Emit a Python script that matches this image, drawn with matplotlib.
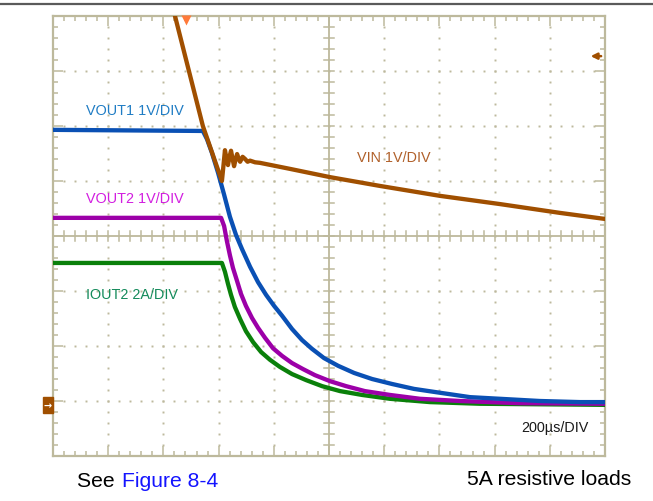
import matplotlib
matplotlib.use("Agg")
import matplotlib.pyplot as plt
from matplotlib.patches import Rectangle
from matplotlib.lines import Line2D
from matplotlib.ticker import MultipleLocator

plt.rcParams['font.family'] = ['Liberation Sans', 'DejaVu Sans']

# Time base: 200 us/div, 10 divisions; amplitudes in screen divisions (0..8)
vout1_t = [0, 543, 558, 576, 598, 620, 641, 663, 685, 714, 743, 772, 801, 830, 866, 902,
           938, 982, 1033, 1091, 1156, 1228, 1308, 1402, 1511, 1620, 1764, 1909, 2000]
vout1_y = [5.93, 5.91, 5.76, 5.51, 5.15, 4.75, 4.35, 4.02, 3.76, 3.44, 3.16, 2.93, 2.73, 2.55,
           2.31, 2.11, 1.95, 1.78, 1.64, 1.51, 1.40, 1.31, 1.22, 1.15, 1.07, 1.04, 1.00, 0.98, 0.98]

vout2_t = [0, 609, 620, 630, 641, 652, 667, 681, 699, 721, 743, 768, 797, 830, 866, 906,
           949, 1004, 1062, 1130, 1221, 1330, 1475, 1692, 2000]
vout2_y = [4.33, 4.33, 4.18, 3.91, 3.65, 3.42, 3.18, 2.95, 2.73, 2.51, 2.33, 2.15, 1.96, 1.82,
           1.69, 1.58, 1.47, 1.36, 1.27, 1.18, 1.11, 1.04, 1.00, 0.96, 0.95]

iout2_t = [0, 612, 623, 634, 645, 659, 678, 699, 725, 754, 786, 822, 866, 917, 975, 1040,
           1120, 1221, 1366, 1547, 2000]
iout2_y = [3.51, 3.51, 3.35, 3.13, 2.93, 2.71, 2.49, 2.27, 2.07, 1.89, 1.75, 1.62, 1.49, 1.38,
           1.27, 1.18, 1.11, 1.04, 0.98, 0.95, 0.93]

vin_t = [424, 442, 543, 572, 605, 612, 618, 623, 629, 634, 640, 645, 650, 656, 662, 667,
         673, 678, 687, 696, 705, 714, 732, 750, 859, 1004, 1185, 1402, 1620, 1837, 2000]
vin_y = [8.40, 8.00, 6.00, 5.58, 5.10, 5.00, 5.30, 5.56, 5.40, 5.29, 5.45, 5.55, 5.42, 5.27,
         5.40, 5.49, 5.40, 5.35, 5.44, 5.40, 5.35, 5.37, 5.34, 5.33, 5.22, 5.07, 4.91, 4.73,
         4.58, 4.42, 4.31]

C_VOUT1 = '#0a50b4'
C_VOUT2 = '#9c00a8'
C_IOUT2 = '#0a800a'
C_VIN = '#a04f00'
GRID = '#bdb99c'

fig = plt.figure(figsize=(6.53, 5.02), dpi=100)
ax = fig.add_axes([53 / 653, 45 / 502, 552 / 653, 440 / 502])
ax.set_xlim(0, 2000)
ax.set_ylim(0, 8)

for s in ax.spines.values():
    s.set_color(GRID)
    s.set_linewidth(1.6)

ax.xaxis.set_major_locator(MultipleLocator(200))
ax.xaxis.set_minor_locator(MultipleLocator(40))
ax.yaxis.set_major_locator(MultipleLocator(1))
ax.yaxis.set_minor_locator(MultipleLocator(0.2))
ax.tick_params(which='both', direction='in', top=True, right=True, bottom=True, left=True,
               labelbottom=False, labelleft=False, color=GRID, width=1.1)
ax.tick_params(which='major', length=7.5)
ax.tick_params(which='minor', length=3.5)

# dotted graticule
for i in range(1, 10):
    if i == 5:
        continue
    ys = [k * 0.2 for k in range(1, 40)]
    ax.plot([i * 200] * len(ys), ys, ls='none', marker='s', ms=1.4, mfc=GRID, mec='none', zorder=1)
for j in range(1, 8):
    if j == 4:
        continue
    xs = [k * 40 for k in range(1, 50)]
    ax.plot(xs, [j] * len(xs), ls='none', marker='s', ms=1.4, mfc=GRID, mec='none', zorder=1)

# centre cross with tick marks
ax.axvline(1000, color=GRID, lw=1.3, zorder=1)
ax.axhline(4, color=GRID, lw=1.3, zorder=1)
for k in range(1, 50):
    ax.plot([k * 40, k * 40], [3.91, 4.09], color=GRID, lw=1.1, zorder=1)
for k in range(1, 40):
    ax.plot([982, 1018], [k * 0.2, k * 0.2], color=GRID, lw=1.1, zorder=1)

# traces
lw = 3.1
ax.plot(iout2_t, iout2_y, color=C_IOUT2, lw=lw, zorder=3, solid_joinstyle='round')
ax.plot(vout2_t, vout2_y, color=C_VOUT2, lw=lw, zorder=4, solid_joinstyle='round')
ax.plot(vout1_t, vout1_y, color=C_VOUT1, lw=lw, zorder=5, solid_joinstyle='round')
ax.plot(vin_t, vin_y, color=C_VIN, lw=lw, zorder=6, solid_joinstyle='round')

# channel labels
fs = 10.4
ax.text(120, 6.29, 'VOUT1 1V/DIV', color='#1f7cc4', fontsize=fs, va='center', ha='left')
ax.text(120, 4.69, 'VOUT2 1V/DIV', color='#d21ee0', fontsize=fs, va='center', ha='left')
ax.text(120, 2.95, 'IOUT2 2A/DIV', color='#138a5a', fontsize=fs, va='center', ha='left')
ax.text(1102, 5.44, 'VIN 1V/DIV', color='#b0602a', fontsize=fs, va='center', ha='left')
ax.text(1942, 0.53, '200\u00b5s/DIV', color='#1a1a1a', fontsize=fs, va='center', ha='right')

# trigger position marker
ax.plot([482], [7.93], marker='v', ms=7, color='#ff7a3a', mec='none', clip_on=False, zorder=7)

# trigger level arrow on the right
ax.annotate('', xy=(1938, 7.27), xytext=(1996, 7.27),
            arrowprops=dict(arrowstyle='-|>', color=C_VIN, lw=1.8, mutation_scale=9),
            zorder=7)

# ground reference marker on the left
fig.add_artist(Rectangle((43 / 653, (502 - 414) / 502), 10 / 653, 16 / 502,
                         transform=fig.transFigure, color=C_VIN))
fig.text(48 / 653, (502 - 406) / 502, '\u2192', color='white', fontsize=7, fontweight='bold',
         ha='center', va='center', family='DejaVu Sans')

# header rule
fig.add_artist(Line2D([0, 1], [(502 - 5) / 502] * 2, transform=fig.transFigure,
                      color='#5a5a5a', lw=1.6))

# caption
cap_y = (502 - 482) / 502
fig.text(77 / 653, cap_y, 'See ', color='black', fontsize=15.2, va='center', ha='left')
fig.text(121.5 / 653, cap_y, 'Figure 8-4', color='#1414ff', fontsize=15.2, va='center', ha='left')
fig.text(631 / 653, cap_y + 0.004, '5A resistive loads', color='black', fontsize=15.2,
         va='center', ha='right')

fig.savefig('out.png', dpi=100)
